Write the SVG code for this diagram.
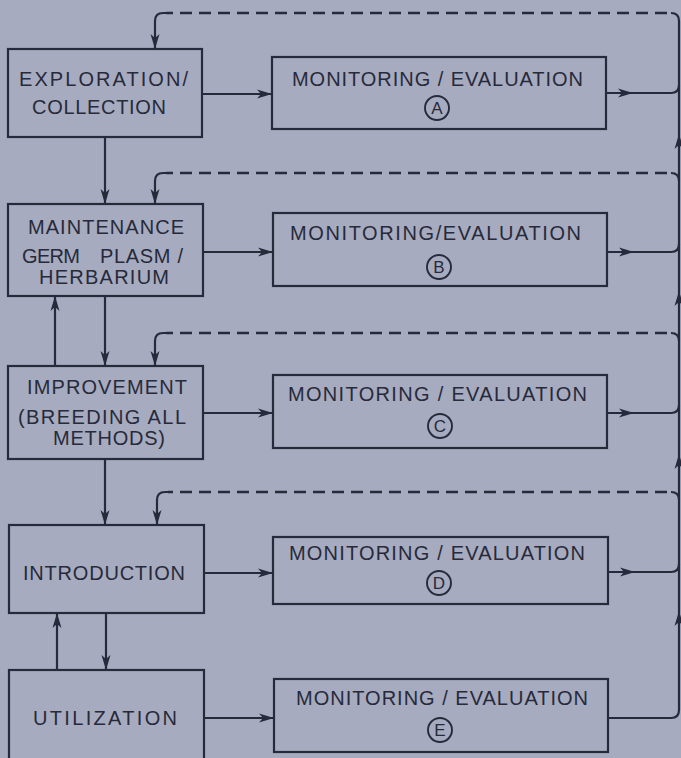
<svg xmlns="http://www.w3.org/2000/svg" width="681" height="758" viewBox="0 0 681 758">
<style>
.box{fill:none;stroke:#262a3a;stroke-width:2.2}
.ln{fill:none;stroke:#262a3a;stroke-width:2.2}
.dash{fill:none;stroke:#262a3a;stroke-width:2.6;stroke-dasharray:12 7}
.ah{fill:#262a3a}
.t{font-family:"Liberation Sans","DejaVu Sans",sans-serif;font-size:20px;fill:#262a3a}
.c{font-family:"Liberation Sans","DejaVu Sans",sans-serif;font-size:17px;fill:#262a3a;text-anchor:middle}
.circ{fill:none;stroke:#262a3a;stroke-width:1.9}
</style>
<defs>
<path id="ah" d="M0,0 L-15,-4.5 L-11,0 L-15,4.5 Z"/>
</defs>
<rect x="0" y="0" width="681" height="758" fill="#a7abbf"/>

<g id="exploration">
<rect class="box" x="8" y="49" width="194" height="88"/>
<text class="t" x="19" y="86" textLength="169" lengthAdjust="spacing">EXPLORATION/</text>
<text class="t" x="32" y="114" textLength="134" lengthAdjust="spacing">COLLECTION</text>
</g>
<g id="maintenance">
<rect class="box" x="8" y="204" width="195" height="92"/>
<text class="t" x="28" y="234" textLength="156" lengthAdjust="spacing">MAINTENANCE</text>
<text class="t" x="22" y="263" textLength="58" lengthAdjust="spacing">GERM</text>
<text class="t" x="100" y="263" textLength="83" lengthAdjust="spacing">PLASM /</text>
<text class="t" x="39" y="284" textLength="130" lengthAdjust="spacing">HERBARIUM</text>
</g>
<g id="improvement">
<rect class="box" x="8" y="366" width="195" height="93"/>
<text class="t" x="27" y="394" textLength="160" lengthAdjust="spacing">IMPROVEMENT</text>
<text class="t" x="18" y="424" textLength="168" lengthAdjust="spacing">(BREEDING ALL</text>
<text class="t" x="53" y="445" textLength="112" lengthAdjust="spacing">METHODS)</text>
</g>
<g id="introduction">
<rect class="box" x="9" y="525" width="195" height="88"/>
<text class="t" x="23" y="580" textLength="162" lengthAdjust="spacing">INTRODUCTION</text>
</g>
<g id="utilization">
<rect class="box" x="9" y="670" width="195" height="95"/>
<text class="t" x="33" y="725" textLength="144" lengthAdjust="spacing">UTILIZATION</text>
</g>

<g id="monitorA">
<rect class="box" x="272" y="57" width="334" height="72"/>
<text class="t" x="292" y="86" textLength="291" lengthAdjust="spacing">MONITORING / EVALUATION</text>
<circle class="circ" cx="437" cy="108" r="12"/>
<text class="c" x="437" y="114">A</text>
</g>
<g id="monitorB">
<rect class="box" x="273" y="213" width="334" height="73"/>
<text class="t" x="290" y="240" textLength="291" lengthAdjust="spacing">MONITORING/EVALUATION</text>
<circle class="circ" cx="439" cy="267" r="12"/>
<text class="c" x="439" y="273">B</text>
</g>
<g id="monitorC">
<rect class="box" x="273" y="375" width="334" height="73"/>
<text class="t" x="288" y="401" textLength="299" lengthAdjust="spacing">MONITORING / EVALUATION</text>
<circle class="circ" cx="440" cy="426" r="12"/>
<text class="c" x="440" y="432">C</text>
</g>
<g id="monitorD">
<rect class="box" x="273" y="537" width="335" height="67"/>
<text class="t" x="289" y="560" textLength="296" lengthAdjust="spacing">MONITORING / EVALUATION</text>
<circle class="circ" cx="439" cy="583" r="12"/>
<text class="c" x="439" y="589">D</text>
</g>
<g id="monitorE">
<rect class="box" x="274" y="679" width="334" height="73"/>
<text class="t" x="296" y="705" textLength="292" lengthAdjust="spacing">MONITORING / EVALUATION</text>
<circle class="circ" cx="440" cy="730" r="12"/>
<text class="c" x="440" y="736">E</text>
</g>

<g id="connectors">
<path class="ln" d="M105,137 V204"/>
<use href="#ah" class="ah" transform="translate(105,204) rotate(90)"/>
<path class="ln" d="M105,296 V366"/>
<use href="#ah" class="ah" transform="translate(105,366) rotate(90)"/>
<path class="ln" d="M55,366 V296"/>
<use href="#ah" class="ah" transform="translate(55,296) rotate(-90)"/>
<path class="ln" d="M105,459 V525"/>
<use href="#ah" class="ah" transform="translate(105,525) rotate(90)"/>
<path class="ln" d="M106,613 V670"/>
<use href="#ah" class="ah" transform="translate(106,670) rotate(90)"/>
<path class="ln" d="M57,670 V613"/>
<use href="#ah" class="ah" transform="translate(57,613) rotate(-90)"/>

<path class="ln" d="M202,94 H272"/>
<use href="#ah" class="ah" transform="translate(272,94)"/>
<path class="ln" d="M203,252 H273"/>
<use href="#ah" class="ah" transform="translate(273,252)"/>
<path class="ln" d="M203,413 H273"/>
<use href="#ah" class="ah" transform="translate(273,413)"/>
<path class="ln" d="M204,573 H273"/>
<use href="#ah" class="ah" transform="translate(273,573)"/>
<path class="ln" d="M204,718 H274"/>
<use href="#ah" class="ah" transform="translate(274,718)"/>

<path class="ln" d="M606,93 H671 Q679,93 679,85"/>
<use href="#ah" class="ah" transform="translate(633,93)"/>
<path class="ln" d="M607,252 H671 Q679,252 679,244"/>
<use href="#ah" class="ah" transform="translate(634,252)"/>
<path class="ln" d="M607,413 H671 Q679,413 679,405"/>
<use href="#ah" class="ah" transform="translate(634,413)"/>
<path class="ln" d="M608,572 H671 Q679,572 679,564"/>
<use href="#ah" class="ah" transform="translate(635,572)"/>
<path class="ln" d="M608,718 H671 Q679,718 679,710"/>

<path class="ln" d="M679,710 V21"/>
<use href="#ah" class="ah" transform="translate(679,134) rotate(-90)"/>
<use href="#ah" class="ah" transform="translate(679,291) rotate(-90)"/>
<use href="#ah" class="ah" transform="translate(679,454) rotate(-90)"/>
<use href="#ah" class="ah" transform="translate(679,611) rotate(-90)"/>

<path class="ln" d="M679,21 Q679,13 671,13"/>
<path class="dash" d="M667,13 H166"/>
<path class="ln" d="M166,13 H163 Q155,13 155,21 V49"/>
<use href="#ah" class="ah" transform="translate(155,49) rotate(90)"/>

<path class="ln" d="M679,181 Q679,173 671,173"/>
<path class="dash" d="M667,173 H166"/>
<path class="ln" d="M166,173 H163 Q155,173 155,181 V204"/>
<use href="#ah" class="ah" transform="translate(155,204) rotate(90)"/>

<path class="ln" d="M679,341 Q679,333 671,333"/>
<path class="dash" d="M667,333 H166"/>
<path class="ln" d="M166,333 H163 Q155,333 155,341 V366"/>
<use href="#ah" class="ah" transform="translate(155,366) rotate(90)"/>

<path class="ln" d="M679,500 Q679,492 671,492"/>
<path class="dash" d="M667,492 H168"/>
<path class="ln" d="M168,492 H165 Q157,492 157,500 V525"/>
<use href="#ah" class="ah" transform="translate(157,525) rotate(90)"/>
</g>
</svg>
